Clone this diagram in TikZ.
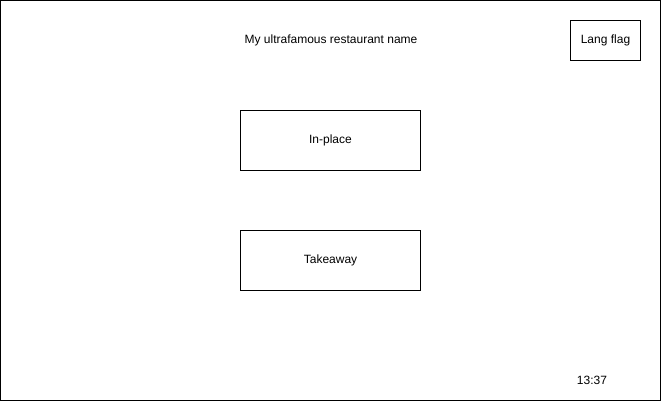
\documentclass[tikz,border=0pt]{standalone}
\usepackage{fontspec}
\setmainfont{Liberation Sans}
\usetikzlibrary{positioning}
\tikzset{
    every node/.style={align=center,font=\fontsize{12}{14}\selectfont,},
    frame/.style={draw,rectangle,line width=1pt,inner sep=0pt,},
    button/.style={frame,minimum width=180pt,minimum height=60pt,},
}

\begin{document}
\begin{tikzpicture}[x=1pt,y=-1pt]
                \useasboundingbox (0,0) rectangle (661,401);
                \node[frame,minimum width=660pt,minimum height=400pt] (screen) at (330.5,200.5) {};

                \node (title) at (331,40) {My ultrafamous restaurant name};
                \node[frame,minimum width=70pt,minimum height=40pt] (lang) at (605.5,40.5) {Lang flag};

                \node[button] (inplace) at (330.5,140.5) {In-place};
                \node[button] (takeaway) at (330.5,260.5) {Takeaway};

                \node (clock) at (592,380) {13:37};
            \end{tikzpicture}
\end{document}
